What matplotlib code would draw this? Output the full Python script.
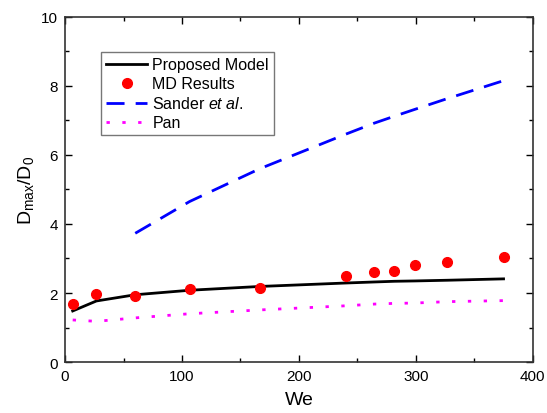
import matplotlib
matplotlib.use("Agg")
import matplotlib.pyplot as plt
from matplotlib.ticker import MultipleLocator

plt.rcParams['font.family'] = ['Liberation Sans', 'DejaVu Sans']
plt.rcParams['mathtext.fontset'] = 'custom'
plt.rcParams['mathtext.rm'] = 'Liberation Sans'
plt.rcParams['mathtext.it'] = 'Liberation Sans:italic'

we_md = [6.5, 26.8, 60, 106.5, 166.5, 240, 264.4, 281.6, 299.2, 326.8, 375]
md_results = [1.68, 1.97, 1.90, 2.13, 2.15, 2.49, 2.61, 2.65, 2.82, 2.90, 3.05]
proposed = [1.48, 1.77, 1.95, 2.08, 2.19, 2.29, 2.32, 2.34, 2.35, 2.37, 2.41]
pan = [1.22, 1.18, 1.28, 1.40, 1.51, 1.63, 1.68, 1.70, 1.71, 1.75, 1.78]
we_sander = [60, 106.5, 166.5, 240, 264.4, 281.6, 299.2, 326.8, 375]
sander = [3.73, 4.65, 5.60, 6.60, 6.92, 7.12, 7.32, 7.63, 8.15]

fig = plt.figure(figsize=(5.47, 4.14), dpi=100)
ax = fig.add_axes([0.119, 0.123, 0.855, 0.834])

ax.plot(we_md, proposed, color='black', lw=2, label='Proposed Model')
ax.plot(we_md, md_results, 'o', color='red', ms=7, label='MD Results')
ax.plot(we_sander, sander, color='blue', lw=2, dashes=(6.5, 4), label=r'Sander $\mathit{et\ al.}$')
ax.plot(we_md, pan, color='magenta', lw=2, dashes=(1.2, 4.5), label='Pan')

ax.set_xlim(0, 400)
ax.set_ylim(0, 10)
ax.xaxis.set_major_locator(MultipleLocator(100))
ax.xaxis.set_minor_locator(MultipleLocator(50))
ax.yaxis.set_major_locator(MultipleLocator(2))
ax.yaxis.set_minor_locator(MultipleLocator(1))
ax.tick_params(which='both', direction='in', top=True, right=True, labelsize=11)
ax.tick_params(which='major', length=5, width=1, pad=5)
ax.tick_params(which='minor', length=3, width=1)
for s in ax.spines.values():
    s.set_linewidth(1.2)
    s.set_color('#333333')

ax.set_xlabel('We', fontsize=14, labelpad=6)
ax.set_ylabel(r'D$_{\mathrm{max}}$/D$_0$', fontsize=14, labelpad=4)

leg = ax.legend(loc='upper left', bbox_to_anchor=(0.06, 0.92), fontsize=11.5,
                frameon=True, fancybox=False, edgecolor='#555555',
                handlelength=2.6, borderpad=0.3, labelspacing=0.25, handletextpad=0.3)
leg.get_frame().set_linewidth(1.0)

fig.savefig('out.png', dpi=100)
